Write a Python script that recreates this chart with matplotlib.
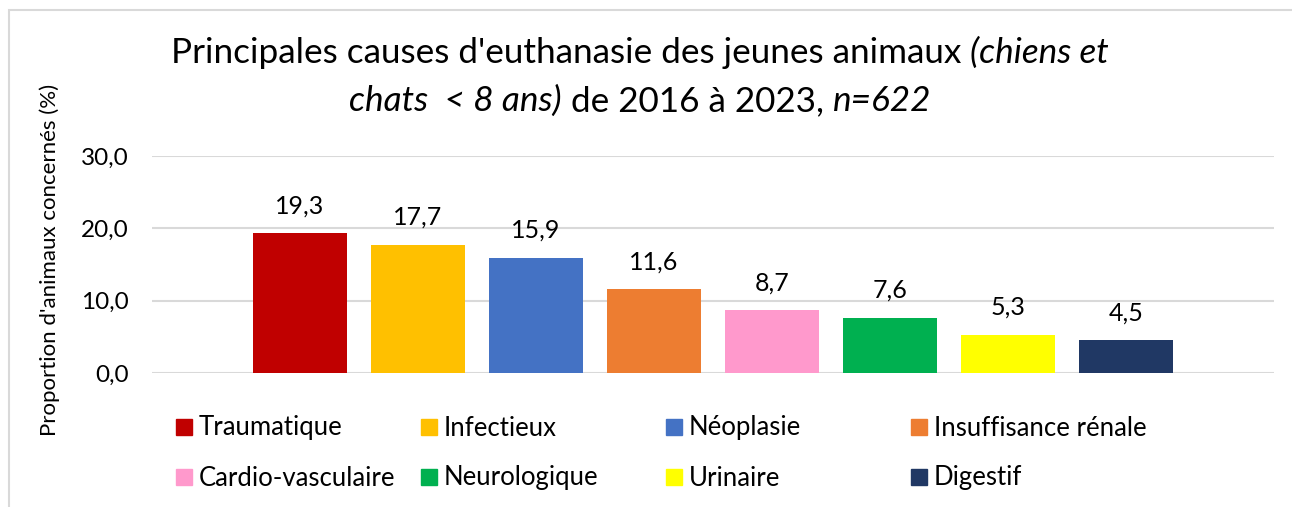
import matplotlib
matplotlib.use("Agg")
import matplotlib.pyplot as plt
from matplotlib.patches import Rectangle

plt.rcParams['font.family'] = ['Lato', 'DejaVu Sans']

# données
causes = ['Traumatique', 'Infectieux', 'Néoplasie', 'Insuffisance rénale',
          'Cardio-vasculaire', 'Neurologique', 'Urinaire', 'Digestif']
valeurs = [19.3, 17.7, 15.9, 11.6, 8.7, 7.6, 5.3, 4.5]
couleurs = ['#C00000', '#FFC000', '#4472C4', '#ED7D31',
            '#FF99CC', '#00B050', '#FFFF00', '#203864']
yticks = [0, 10, 20, 30]

W, H = 1292, 507
fig = plt.figure(figsize=(W / 100, H / 100), dpi=100)

# cadre gris du graphique
fig.patches.append(Rectangle((9 / W, -0.1), 1.2, 1 - 10 / H + 0.1,
                             transform=fig.transFigure, fill=False,
                             edgecolor='#D9D9D9', linewidth=1.5))

ax = fig.add_axes([152 / W, 1 - 373 / H, (1274 - 152) / W, (373 - 156) / H])
x = list(range(len(valeurs)))
bars = ax.bar(x, valeurs, width=0.8, color=couleurs, zorder=3)
for b, v in zip(bars, valeurs):
    ax.annotate(f"{v:.1f}".replace('.', ','), (b.get_x() + b.get_width() / 2, v),
                xytext=(0, 11.5), textcoords='offset points',
                ha='center', va='bottom', fontsize=18, color='#000000')

ax.set_xlim(-1.254, len(valeurs) - 1 + 1.254)
ax.set_ylim(0, 30)
ax.set_yticks(yticks)
ax.set_yticklabels([f"{t:.1f}".replace('.', ',') for t in yticks], fontsize=17.5)
ax.set_xticks([])
ax.tick_params(axis='y', length=0, pad=17)
ax.grid(axis='y', color='#D9D9D9', linewidth=1.5, zorder=0)
for s in ax.spines.values():
    s.set_visible(False)

fig.text(50 / W, 1 - 260 / H, "Proportion d'animaux concernés (%)", rotation=90,
         ha='center', va='center', fontsize=16)

# légende sur 2 lignes x 4 colonnes
for i, (c, col) in enumerate(zip(causes, couleurs)):
    cx = 176 + (i % 4) * 245
    cy = 427 + (i // 4) * 50
    fig.patches.append(Rectangle((cx / W, 1 - (cy + 8) / H), 16 / W, 16 / H,
                                 transform=fig.transFigure, color=col))
    fig.text((cx + 23) / W, 1 - (cy + 1) / H, c, ha='left', va='center', fontsize=18.5)

# titre avec parties en italique
renderer = fig.canvas.get_renderer()

def titre_ligne(parts, y):
    objs = [fig.text(0, y, t, fontsize=25.3, style=st, va='center') for t, st in parts]
    widths = [o.get_window_extent(renderer).width for o in objs]
    xpos = 640 - sum(widths) / 2
    for o, w in zip(objs, widths):
        o.set_x(xpos / W)
        xpos += w

titre_ligne([("Principales causes d'euthanasie des jeunes animaux ", 'normal'),
             ("(chiens et", 'italic')], 1 - 53 / H)
titre_ligne([("chats  < 8 ans)", 'italic'), (" de 2016 à 2023, ", 'normal'),
             ("n=622", 'italic')], 1 - 101 / H)

fig.savefig('out.png', dpi=100)
